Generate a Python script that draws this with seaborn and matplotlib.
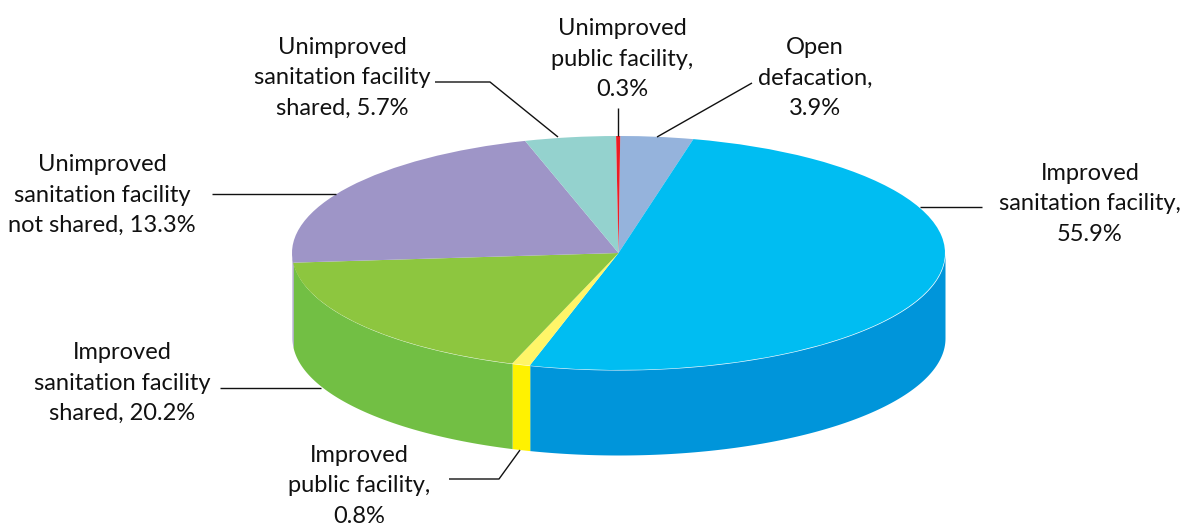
import numpy as np
import matplotlib
matplotlib.use("Agg")
import matplotlib.pyplot as plt
import seaborn as sns

# Printed labels (as in the chart)
categories = ["Open\ndefacation,", "Improved\nsanitation facility,", "Improved\npublic facility,",
              "Improved\nsanitation facility\nshared,", "Unimproved\nsanitation facility\nnot shared,",
              "Unimproved\nsanitation facility\nshared,", "Unimproved\npublic facility,"]
printed_values = [3.9, 55.9, 0.8, 20.2, 13.3, 5.7, 0.3]
# Slice shares as actually drawn in the picture (differ from printed values)
drawn_shares = [3.6, 50.7, 0.9, 18.4, 21.7, 4.5, 0.2]
top_colors = ["#95B3DC", "#00BDF2", "#FFF568", "#8DC63F", "#9E95C7", "#94D2CE", "#ED1C24"]
wall_colors = ["#95B3DC", "#0095DA", "#FFF200", "#72BF44", "#9E95C7", "#94D2CE", "#ED1C24"]

W, H = 1183, 527
CX, CY, RX, RY, DEPTH = 618.5, 253, 326.5, 117, 85
START = 0.3

sns.set_theme(style="white")
plt.rcParams["font.family"] = ["Lato", "DejaVu Sans"]

fig = plt.figure(figsize=(W / 100, H / 100), dpi=100, facecolor="white")
ax = fig.add_axes([(CX - RX) / W, 1 - (CY + RY) / H, 2 * RX / W, 2 * RY / H])

ax.pie(drawn_shares, colors=top_colors, startangle=90 - START, counterclock=False, radius=1,
       center=(0, 0), wedgeprops=dict(linewidth=0))
ax.set_aspect("auto")
ax.set_xlim(-1, 1)
ax.set_ylim(-1, 1)
ax.axis("off")

# side wall: the part of the rim that faces the viewer
edges = START + np.concatenate([[0], np.cumsum(drawn_shares)]) / sum(drawn_shares) * 360
d = DEPTH / RY
for a0, a1, c in zip(edges[:-1], edges[1:], wall_colors):
    lo, hi = max(a0, 90), min(a1, 270)
    if hi <= lo:
        continue
    t = np.radians(np.linspace(lo, hi, 120))
    ax.fill_between(np.sin(t), np.cos(t), np.cos(t) - d, color=c, linewidth=0, zorder=0.5, clip_on=False)

# overlay in pixel units for labels and leader lines
ov = fig.add_axes([0, 0, 1, 1], zorder=3)
ov.set_xlim(0, W)
ov.set_ylim(H, 0)
ov.axis("off")
ov.patch.set_alpha(0)

leaders = [
    ([657, 752], [137, 83]),
    ([920, 982], [207, 207]),
    ([449, 499, 520], [479, 479, 450]),
    ([220, 321], [388, 388]),
    ([212, 336], [194, 194]),
    ([435, 490, 558], [82, 82, 137]),
    ([618, 618], [108, 136]),
]
for xs, ys in leaders:
    ov.plot(xs, ys, color="#111111", lw=1.0, solid_capstyle="butt")

anchors = [(815, 78), (1090, 204), (359, 486), (122, 383), (102, 195), (342, 78), (622, 59)]
own_line = ("Open\ndefacation,", "Improved\npublic facility,", "Unimproved\npublic facility,",
            "Improved\nsanitation facility,")
for cat, val, (x, y) in zip(categories, printed_values, anchors):
    txt = cat + (f"\n{val}%" if cat in own_line else f" {val}%")
    ov.text(x, y, txt, ha="center", va="center", fontsize=17, color="#111111", linespacing=1.56)

fig.savefig("out.png", dpi=100, facecolor="white")
